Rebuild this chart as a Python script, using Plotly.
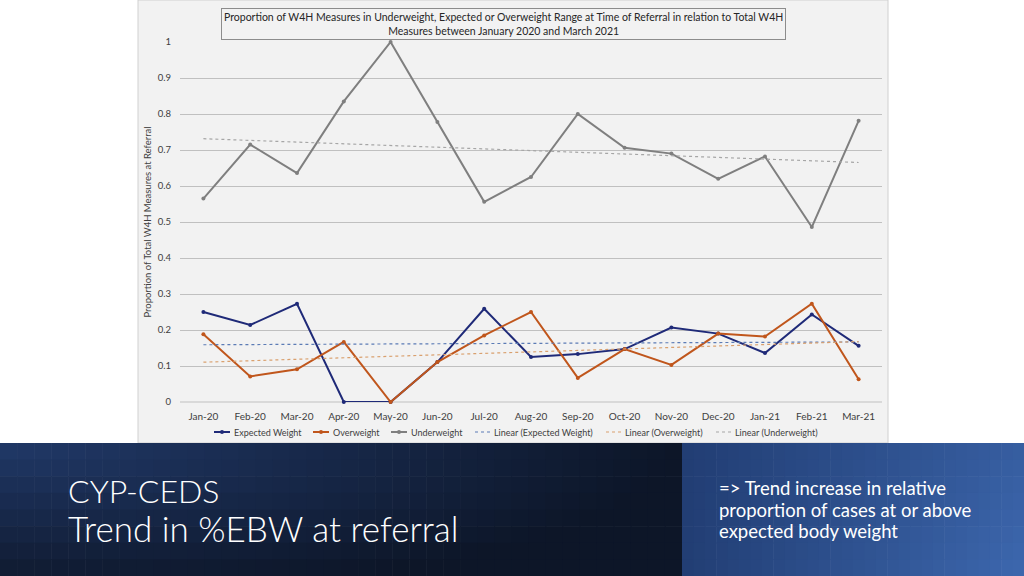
import numpy as np
import plotly.graph_objects as go

months = ["Jan-20", "Feb-20", "Mar-20", "Apr-20", "May-20", "Jun-20", "Jul-20", "Aug-20",
          "Sep-20", "Oct-20", "Nov-20", "Dec-20", "Jan-21", "Feb-21", "Mar-21"]
expected_weight = [0.250, 0.214, 0.273, 0.0, 0.0, 0.111, 0.259, 0.125,
                   0.133, 0.147, 0.207, 0.190, 0.136, 0.243, 0.156]
overweight = [0.188, 0.071, 0.091, 0.167, 0.0, 0.111, 0.185, 0.250,
              0.067, 0.147, 0.103, 0.190, 0.182, 0.273, 0.063]
underweight = [0.565, 0.715, 0.636, 0.835, 1.0, 0.778, 0.556, 0.625,
               0.800, 0.706, 0.690, 0.620, 0.682, 0.486, 0.781]
y_ticks = [0, 0.1, 0.2, 0.3, 0.4, 0.5, 0.6, 0.7, 0.8, 0.9, 1]
y_tick_labels = ["0", "0.1", "0.2", "0.3", "0.4", "0.5", "0.6", "0.7", "0.8", "0.9", "1"]

FONT = "Lato"
W, H = 1024, 576
L, R, T, B = 180, 882, 42, 402  # plot area in pixels


def px(x):
    return (x - L) / (R - L)


def py(y):
    return (B - y) / (B - T)


def trend(vals):
    idx = np.arange(len(vals))
    k, c = np.polyfit(idx, np.array(vals), 1)
    return list(k * idx + c)


fig = go.Figure()
series = [
    ("Expected Weight", expected_weight, "#1f2a78"),
    ("Overweight", overweight, "#c0561c"),
    ("Underweight", underweight, "#7f7f7f"),
]
for name, vals, col in series:
    fig.add_trace(go.Scatter(
        x=months, y=vals, name=name, mode="lines+markers",
        line=dict(color=col, width=2), marker=dict(size=4, color=col),
        cliponaxis=False, showlegend=False))
trend_cols = ["#5b7bb5", "#d9a06e", "#a6a6a6"]
for (name, vals, col), tc in zip(series, trend_cols):
    fig.add_trace(go.Scatter(
        x=months, y=trend(vals), name=f"Linear ({name})", mode="lines",
        line=dict(color=tc, width=1.2, dash="dot"), cliponaxis=False, showlegend=False))

shapes = []
# chart frame
shapes.append(dict(type="rect", xref="paper", yref="paper",
                   x0=px(138), x1=px(888), y0=py(443), y1=py(0),
                   fillcolor="#f2f2f2", line=dict(color="#d0d0d0", width=1), layer="below"))


def lerp(c1, c2, t):
    return "rgb(%d,%d,%d)" % tuple(int(a + (b - a) * t) for a, b in zip(c1, c2))


# left banner gradient
light = (33, 57, 104)
dark = (13, 22, 40)
ncol, nrow = 40, 8
x0b, x1b, y0b, y1b = 0, 682, 443, 576
for i in range(ncol):
    for j in range(nrow):
        xa = x0b + (x1b - x0b) * i / ncol
        xb = x0b + (x1b - x0b) * (i + 1) / ncol
        ya = y0b + (y1b - y0b) * j / nrow
        yb = y0b + (y1b - y0b) * (j + 1) / nrow
        u = (i + 0.5) / ncol
        v = (j + 0.5) / nrow
        t = min(1.0, ((u * 1.0) ** 2 + (v * 0.85) ** 2) ** 0.5)
        shapes.append(dict(type="rect", xref="paper", yref="paper",
                           x0=px(xa), x1=px(xb + 0.6), y0=py(yb + 0.6), y1=py(ya),
                           fillcolor=lerp(light, dark, t), line=dict(width=0), layer="below"))
# right banner gradient
rl = (34, 62, 116)
rr = (60, 102, 172)
ncol2 = 30
for i in range(ncol2):
    for j in range(nrow):
        xa = 682 + (1024 - 682) * i / ncol2
        xb = 682 + (1024 - 682) * (i + 1) / ncol2
        ya = y0b + (y1b - y0b) * j / nrow
        yb = y0b + (y1b - y0b) * (j + 1) / nrow
        u = (i + 0.5) / ncol2
        v = (j + 0.5) / nrow
        t = min(1.0, 0.8 * u + 0.25 * v * u)
        shapes.append(dict(type="rect", xref="paper", yref="paper",
                           x0=px(xa), x1=px(xb + 0.6), y0=py(yb + 0.6), y1=py(ya),
                           fillcolor=lerp(rl, rr, t), line=dict(width=0), layer="below"))

annotations = [
    dict(xref="paper", yref="paper", x=px(503), y=py(24), xanchor="center", yanchor="middle",
         text="Proportion of W4H Measures in Underweight, Expected or Overweight Range at Time of Referral in relation to Total W4H<br>Measures between January 2020 and March 2021",
         showarrow=False, font=dict(family=FONT, size=10.5, color="#262626"),
         bgcolor="#f2f2f2", bordercolor="#8c8c8c", borderwidth=1, borderpad=2),
    dict(xref="paper", yref="paper", x=px(66), y=py(490), xanchor="left", yanchor="middle",
         text="CYP-CEDS", showarrow=False,
         font=dict(family=FONT, size=32, color="white", weight=300)),
    dict(xref="paper", yref="paper", x=px(66), y=py(528), xanchor="left", yanchor="middle",
         text="Trend in %EBW at referral", showarrow=False,
         font=dict(family=FONT, size=35, color="white", weight=300)),
]
right_lines = ["=> Trend increase in relative", "proportion of cases at or above",
               "expected body weight"]
for k, line in enumerate(right_lines):
    annotations.append(dict(
        xref="paper", yref="paper", x=px(717), y=py(488 + 21.5 * k),
        xanchor="left", yanchor="middle", text=line, showarrow=False,
        font=dict(family=FONT, size=18.5, color="white")))

# custom legend (line segment start/end and text start, in pixels)
legend_items = [
    ("Expected Weight", "#1f2a78", "solid", True, 214, 230, 232),
    ("Overweight", "#c0561c", "solid", True, 313, 329, 331),
    ("Underweight", "#7f7f7f", "solid", True, 391, 407, 409),
    ("Linear (Expected Weight)", trend_cols[0], "dot", False, 475, 490, 492),
    ("Linear (Overweight)", trend_cols[1], "dot", False, 606, 621, 623),
    ("Linear (Underweight)", trend_cols[2], "dot", False, 716, 731, 733),
]
LY = 432
for name, col, dash, mk, xa, xb, xt in legend_items:
    shapes.append(dict(type="line", xref="paper", yref="paper",
                       x0=px(xa), x1=px(xb), y0=py(LY), y1=py(LY),
                       line=dict(color=col, width=2 if mk else 1.2, dash=dash)))
    if mk:
        xm = (xa + xb) / 2
        shapes.append(dict(type="circle", xref="paper", yref="paper",
                           x0=px(xm - 2), x1=px(xm + 2), y0=py(LY + 2), y1=py(LY - 2),
                           fillcolor=col, line=dict(width=0)))
    annotations.append(dict(xref="paper", yref="paper", x=px(xt), y=py(LY),
                            xanchor="left", yanchor="middle", text=name, showarrow=False,
                            font=dict(family=FONT, size=9, color="#404040")))

fig.update_layout(
    width=W, height=H,
    margin=dict(l=L, r=W - R, t=T, b=H - B),
    paper_bgcolor="white", plot_bgcolor="rgba(0,0,0,0)",
    font=dict(family=FONT, size=10, color="#404040"),
    shapes=shapes, annotations=annotations,
    showlegend=False,
    xaxis=dict(type="category", range=[-0.5, 14.5], showgrid=False, zeroline=False,
               showline=False, ticks="", tickfont=dict(size=10, color="#404040"),
               ticklabelstandoff=7, fixedrange=True),
    yaxis=dict(range=[0, 1], tickvals=y_ticks, ticktext=y_tick_labels,
               showgrid=True, gridcolor="#c0c0c0", gridwidth=1, zeroline=False,
               showline=False, ticks="", tickfont=dict(size=9.5, color="#404040"),
               ticklabelstandoff=8,
               title=dict(text="Proportion of Total W4H Measures at Referral",
                          font=dict(size=9.5, color="#404040"), standoff=4)),
)
fig.add_shape(type="line", xref="paper", yref="paper", x0=0, x1=1, y0=0, y1=0,
              line=dict(color="#c0c0c0", width=1), layer="below")

fig.write_html("out.html", config={"displayModeBar": False},
               post_script="document.body.style.margin='0';")
